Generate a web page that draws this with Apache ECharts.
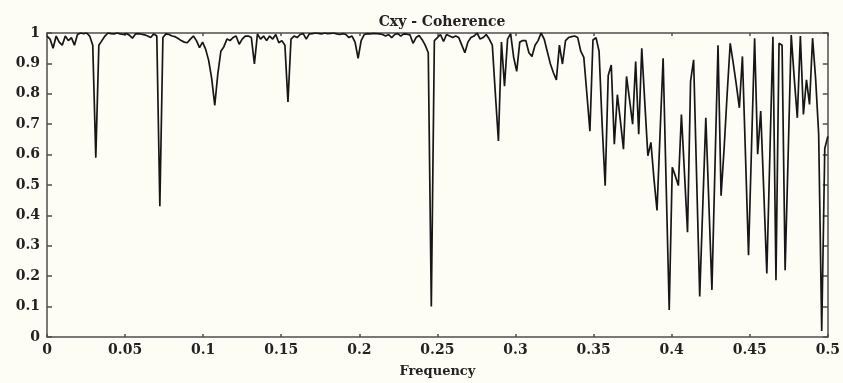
<!DOCTYPE html>
<html><head><meta charset="utf-8">
<script src="https://cdn.jsdelivr.net/npm/echarts@6/dist/echarts.min.js"></script>
<style>html,body{margin:0;padding:0;background:#fdfdf6}#c{width:843px;height:383px}</style>
</head><body><div id="c"></div>
<script>
const titleText = 'Cxy - Coherence';
const xName = 'Frequency';
const nfft = 512;
const xTicks = [0, 0.05, 0.1, 0.15, 0.2, 0.25, 0.3, 0.35, 0.4, 0.45, 0.5];
const yTicks = [0, 0.1, 0.2, 0.3, 0.4, 0.5, 0.6, 0.7, 0.8, 0.9, 1];
const coherence = [
0.99,0.98,0.95,0.99,0.97,0.96,0.99,0.975,0.985,0.96,
0.995,1.0,0.998,1.0,0.99,0.96,0.59,0.96,0.975,0.99,
1.0,0.998,0.997,1.0,0.997,0.995,0.998,0.993,0.983,0.997,
0.998,0.996,0.994,0.99,0.985,0.997,0.99,0.43,0.985,0.997,
0.995,0.99,0.988,0.982,0.975,0.97,0.968,0.98,0.99,0.975,
0.952,0.97,0.947,0.91,0.85,0.762,0.865,0.94,0.955,0.98,
0.975,0.985,0.99,0.963,0.98,0.99,0.99,0.985,0.898,0.997,
0.98,0.99,0.975,0.99,0.98,0.995,0.968,0.975,0.96,0.773,
0.98,0.99,0.985,0.995,0.998,0.98,0.997,0.998,1.0,0.999,
0.997,1.0,0.998,0.999,1.0,0.997,0.995,0.998,0.995,0.985,
0.99,0.97,0.917,0.975,0.995,0.998,0.997,0.999,0.998,0.997,
0.995,0.99,0.995,0.985,0.995,0.998,0.99,0.997,0.996,0.994,
0.966,0.985,0.992,0.978,0.96,0.935,0.10,0.975,0.985,0.995,
0.972,0.995,0.99,0.985,0.99,0.985,0.96,0.935,0.97,0.985,
0.99,1.0,0.98,0.985,0.995,0.98,0.96,0.80,0.645,0.97,
0.825,0.98,0.998,0.92,0.874,0.97,0.975,0.975,0.935,0.923,
0.96,0.975,1.0,0.98,0.94,0.9,0.87,0.846,0.96,0.898,
0.975,0.985,0.988,0.99,0.985,0.94,0.92,0.8,0.677,0.977,
0.985,0.94,0.7,0.498,0.86,0.895,0.634,0.797,0.71,0.618,
0.857,0.78,0.70,0.906,0.667,0.95,0.77,0.596,0.64,0.52,
0.416,0.67,0.917,0.5,0.089,0.558,0.53,0.498,0.732,0.54,
0.345,0.841,0.912,0.52,0.133,0.43,0.721,0.44,0.155,0.56,
0.96,0.465,0.62,0.8,0.966,0.9,0.83,0.754,0.923,0.6,
0.269,0.63,0.983,0.601,0.743,0.48,0.209,0.6,0.988,0.187,
0.966,0.96,0.22,0.6,0.993,0.85,0.721,0.99,0.732,0.846,
0.765,0.983,0.85,0.667,0.02,0.62,0.66
];
const frequency = coherence.map((_, i) => i / nfft);

const font = 'DejaVu Serif';
const axisCol = '#4d4d4d';
const fmt = v => String(+v.toFixed(2));
const chart = echarts.init(document.getElementById('c'), null, {renderer: 'canvas'});
const baseX = {type: 'value', min: xTicks[0], max: xTicks[xTicks.length - 1], interval: 0.05,
  splitLine: {show: false},
  axisLine: {show: true, onZero: false, lineStyle: {color: axisCol, width: 1.5}},
  axisTick: {show: true, inside: true, length: 3, lineStyle: {color: axisCol, width: 1.5}}};
const baseY = {type: 'value', min: yTicks[0], max: yTicks[yTicks.length - 1], interval: 0.1,
  splitLine: {show: false},
  axisLine: {show: true, onZero: false, lineStyle: {color: axisCol, width: 1.5}},
  axisTick: {show: true, inside: true, length: 5, lineStyle: {color: axisCol, width: 1.5}}};
chart.setOption({
  backgroundColor: '#fdfdf6',
  animation: false,
  title: {text: titleText, left: 437, top: 10, textAlign: 'center',
    textStyle: {fontFamily: font, fontWeight: 'bold', fontSize: 14, color: '#222'}},
  grid: {left: 47, right: 15, top: 33, bottom: 44, containLabel: false},
  xAxis: [
    Object.assign({}, baseX, {position: 'bottom', name: xName, nameLocation: 'middle', nameGap: 28,
      nameTextStyle: {fontFamily: font, fontWeight: 'bold', fontSize: 13, color: '#222'},
      axisLabel: {show: true, margin: 6, formatter: fmt, fontFamily: font, fontWeight: 'bold', fontSize: 14, color: '#222'}}),
    Object.assign({}, baseX, {position: 'top', axisLabel: {show: false}})
  ],
  yAxis: [
    Object.assign({}, baseY, {position: 'left',
      axisLabel: {show: true, margin: 7, formatter: fmt, fontFamily: font, fontWeight: 'bold', fontSize: 14, color: '#222'}}),
    Object.assign({}, baseY, {position: 'right', axisLabel: {show: false}})
  ],
  series: [{
    type: 'line', xAxisIndex: 0, yAxisIndex: 0,
    data: frequency.map((f, i) => [f, coherence[i]]),
    showSymbol: false, symbol: 'none',
    lineStyle: {color: '#161616', width: 1.7}
  }]
});
</script></body></html>
